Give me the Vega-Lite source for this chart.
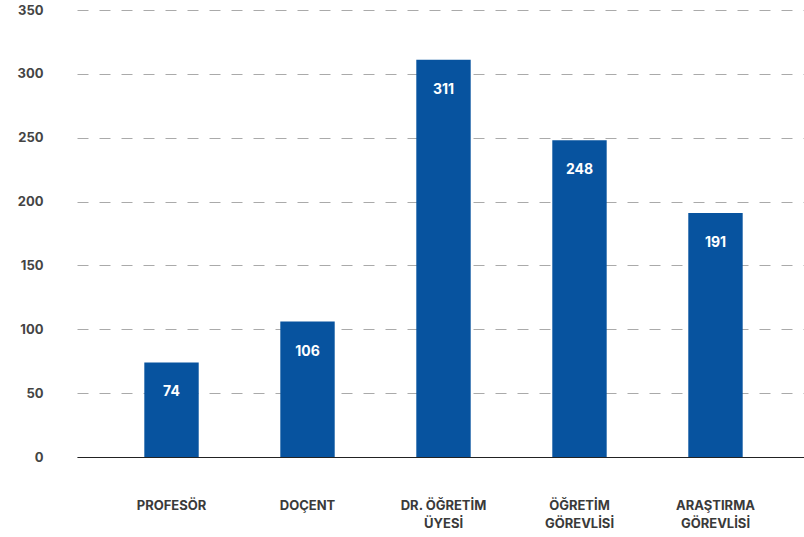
{
  "$schema": "https://vega.github.io/schema/vega-lite/v6.json",
  "width": 733,
  "height": 447,
  "autosize": {"type": "none"},
  "padding": {"left": 77, "top": 10, "right": 0, "bottom": 80},
  "background": "white",
  "config": {"view": {"stroke": null}, "font": "Inter"},
  "data": {
    "values": [
      {"unvan": "PROFESÖR", "sayi": 74},
      {"unvan": "DOÇENT", "sayi": 106},
      {"unvan": "DR. ÖĞRETİM|ÜYESİ", "sayi": 311},
      {"unvan": "ÖĞRETİM|GÖREVLİSİ", "sayi": 248},
      {"unvan": "ARAŞTIRMA|GÖREVLİSİ", "sayi": 191}
    ]
  },
  "encoding": {
    "x": {
      "field": "unvan",
      "type": "nominal",
      "sort": null,
      "scale": {"paddingInner": 0.6, "paddingOuter": 0.495},
      "axis": {
        "title": null,
        "labelAngle": 0,
        "labelExpr": "split(datum.label, '|')",
        "labelFont": "Inter",
        "labelFontSize": 13,
        "labelFontWeight": "bold",
        "labelColor": "#3a3a3a",
        "labelLineHeight": 18,
        "labelPadding": 42,
        "labelBaseline": "top",
        "ticks": false,
        "domainColor": "#222222",
        "domainWidth": 1
      }
    },
    "y": {
      "field": "sayi",
      "type": "quantitative",
      "scale": {"domain": [0, 350]},
      "axis": {
        "title": null,
        "values": [0, 50, 100, 150, 200, 250, 300, 350],
        "domain": false,
        "ticks": false,
        "labelPadding": 34,
        "labelFont": "Inter",
        "labelFontSize": 13,
        "labelFontWeight": "bold",
        "labelColor": "#444444",
        "gridColor": "#aaaaaa",
        "gridDash": [11, 11],
        "gridWidth": 1
      }
    }
  },
  "layer": [
    {"mark": {"type": "bar", "color": "#07539f"}},
    {
      "mark": {
        "type": "text",
        "color": "white",
        "font": "Inter",
        "fontSize": 14,
        "fontWeight": "bold",
        "baseline": "middle",
        "dy": 30
      },
      "encoding": {"text": {"field": "sayi", "type": "quantitative"}}
    }
  ]
}
